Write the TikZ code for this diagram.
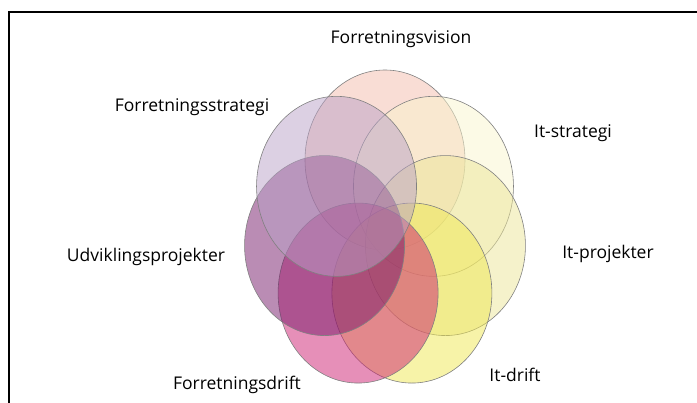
\documentclass[tikz,border=0pt]{standalone}
\usepackage{fontspec}
\setmainfont{Open Sans}
\definecolor{visionC}{RGB}{243,187,171}
\definecolor{itstratC}{RGB}{249,245,205}
\definecolor{itprojC}{RGB}{235,229,151}
\definecolor{itdriftC}{RGB}{239,231,81}
\definecolor{fdriftC}{RGB}{205,31,113}
\definecolor{udvC}{RGB}{117,25,105}
\definecolor{fstratC}{RGB}{185,161,199}

\begin{document}
\begin{tikzpicture}[x=1pt,y=1pt,
        lbl/.style={anchor=base,inner sep=0pt,font=\fontsize{17.5}{20}\selectfont},
        blob/.style={draw=black!50,line width=0.6pt,fill opacity=0.5}]
        \useasboundingbox(0,0)rectangle(697,403);
        \draw[line width=2.8pt](9,0)--(9,391)--(697,391);
        \foreach \c [count=\i from 0,evaluate=\i as \a using 90-\i*360/7] in
          {visionC,itstratC,itprojC,itdriftC,fdriftC,udvC,fstratC}
          \draw[blob,fill=\c,shift={(385,173)}](\a:62pt and 70pt)ellipse(80pt and 90pt);
        \node[lbl](vision) at (401,359){Forretningsvision};
        \node[lbl](fstrat) at (192,291){Forretningsstrategi};
        \node[lbl](itstrat) at (573,265){It-strategi};
        \node[lbl](udv) at (146,141){Udviklingsprojekter};
        \node[lbl](itproj) at (608,144){It-projekter};
        \node[lbl](fdrift) at (237,13){Forretningsdrift};
        \node[lbl](itdrift) at (515,21){It-drift};
     \end{tikzpicture}
\end{document}
